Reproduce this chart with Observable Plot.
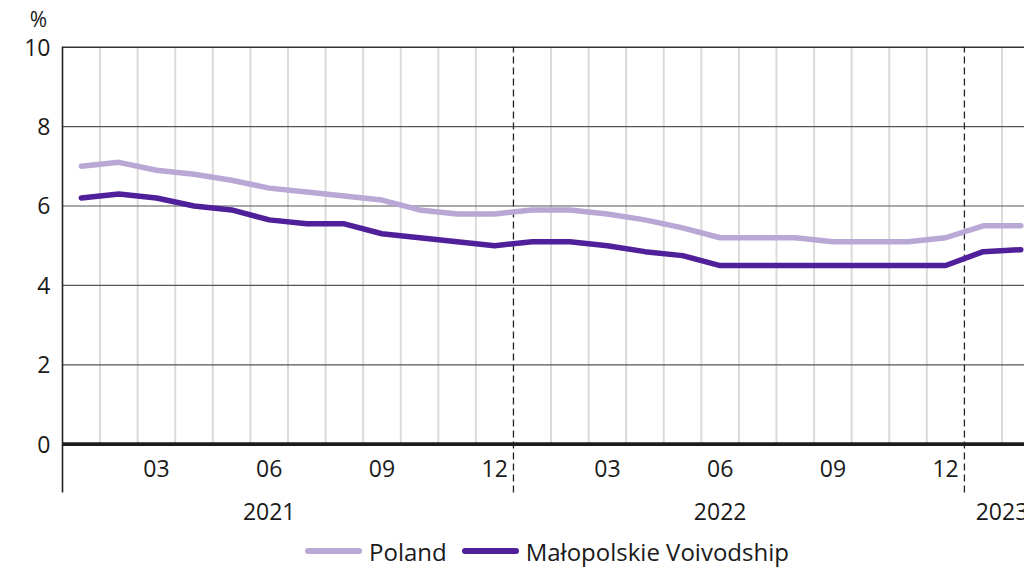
<!DOCTYPE html>
<html>
<head>
<meta charset="utf-8">
<script src="https://cdn.jsdelivr.net/npm/d3@7"></script>
<script src="https://cdn.jsdelivr.net/npm/@observablehq/plot@0.6"></script>
<style>
  html, body { margin: 0; padding: 0; background: #fff; }
  body { width: 1024px; height: 567px; overflow: hidden; position: relative; font-family: "Open Sans", sans-serif; }
  #chart { position: absolute; left: 0; top: 0; }
  #legend { position: absolute; left: 305px; top: 535px; height: 32px; display: flex; align-items: center; font-size: 24px; color: #1a1a1a; white-space: nowrap; }
  .item { display: flex; align-items: center; margin-right: 15px; }
  .sw { display: inline-block; width: 57px; height: 6px; border-radius: 3px; margin-right: 7px; }
</style>
</head>
<body>
<div id="chart"></div>
<div id="legend"></div>
<script>
// ---- data ----
const months = [
  "2021-01","2021-02","2021-03","2021-04","2021-05","2021-06","2021-07","2021-08","2021-09","2021-10","2021-11","2021-12",
  "2022-01","2022-02","2022-03","2022-04","2022-05","2022-06","2022-07","2022-08","2022-09","2022-10","2022-11","2022-12",
  "2023-01","2023-02"
];
const poland = [
  7.0, 7.1, 6.9, 6.8, 6.65, 6.45, 6.35, 6.25, 6.15, 5.9, 5.8, 5.8,
  5.9, 5.9, 5.8, 5.65, 5.45, 5.2, 5.2, 5.2, 5.1, 5.1, 5.1, 5.2,
  5.5, 5.5
];
const malopolskie = [
  6.2, 6.3, 6.2, 6.0, 5.9, 5.65, 5.55, 5.55, 5.3, 5.2, 5.1, 5.0,
  5.1, 5.1, 5.0, 4.85, 4.75, 4.5, 4.5, 4.5, 4.5, 4.5, 4.5, 4.5,
  4.85, 4.9
];
const seriesNames = ["Poland", "Małopolskie Voivodship"];
const seriesColors = ["#b9a7d6", "#50209a"];
const monthTickLabels = ["03", "06", "09", "12"];
const years = ["2021", "2022", "2023"];
const yTicks = [0, 2, 4, 6, 8, 10];
const yGrid = [2, 4, 6, 8];
const unitLabel = "%";

// ---- derived tables ----
const rows = [];
months.forEach((m, i) => {
  rows.push({i, month: m, series: seriesNames[0], value: poland[i]});
  rows.push({i, month: m, series: seriesNames[1], value: malopolskie[i]});
});
const yearStarts = months.map((m, i) => ({m, i})).filter(d => d.i > 0 && d.m.endsWith("-01")).map(d => d.i);
const monthBounds = d3.range(1, months.length + 1).filter(b => !yearStarts.includes(b));
const monthTicks = months.map((m, i) => ({i, label: m.slice(5)})).filter(d => monthTickLabels.includes(d.label));
const yearPos = years.map(y => {
  const idx = months.map((m, i) => ({m, i})).filter(d => d.m.startsWith(y)).map(d => d.i);
  const june = months.indexOf(y + "-06");
  return {year: y, x: june >= 0 ? june + 0.5 : (idx[0] + idx[idx.length - 1] + 1) / 2};
});
const yBottom = -1.23;

const chart = Plot.plot({
  width: 1024,
  height: 532,
  marginLeft: 62,
  marginRight: 0,
  marginTop: 0,
  marginBottom: 0,
  x: {type: "linear", domain: [0, months.length], range: [62, 62 + months.length * 37.58], axis: null},
  y: {domain: [yBottom, 10], range: [492.5, 46.7], axis: null},
  color: {domain: seriesNames, range: seriesColors},
  style: {fontFamily: "'Open Sans', sans-serif", fontSize: "23px", color: "#1a1a1a", background: "#fff"},
  marks: [
    Plot.ruleX(monthBounds, {x: d => d, y1: 0, y2: 10, stroke: "#dadada", strokeWidth: 2}),
    Plot.ruleY(yGrid, {y: d => d, stroke: "#555", strokeWidth: 1.2}),
    Plot.ruleY([10], {y: d => d, stroke: "#333", strokeWidth: 1.6}),
    Plot.ruleX(yearStarts, {x: d => d, y1: yBottom, y2: 10, stroke: "#222", strokeWidth: 1.3, strokeDasharray: "7,4"}),
    Plot.ruleX([0], {x: d => d, y1: yBottom, y2: 10, stroke: "#222", strokeWidth: 1.6}),
    Plot.line(rows, {x: d => d.i + 0.5, y: "value", z: "series", stroke: "series", strokeWidth: 5.5, strokeLinejoin: "round", strokeLinecap: "round"}),
    Plot.ruleY([0], {y: d => d, stroke: "#1c1c1c", strokeWidth: 3.8}),
    Plot.text(yTicks, {x: 0, y: d => d, text: d => String(d), dx: -12, dy: 1, textAnchor: "end", fill: "#1a1a1a"}),
    Plot.text([unitLabel], {x: 0, y: 10, text: d => d, dx: -24, dy: -27, fontSize: 21, fill: "#1a1a1a"}),
    Plot.text(monthTicks, {x: d => d.i + 0.5, y: 0, text: "label", dy: 25, fill: "#1a1a1a"}),
    Plot.text(yearPos, {x: "x", y: 0, text: "year", dy: 68, fill: "#1a1a1a"})
  ]
});
document.getElementById("chart").append(chart);

const legend = document.getElementById("legend");
seriesNames.forEach((name, k) => {
  const item = document.createElement("span");
  item.className = "item";
  const sw = document.createElement("span");
  sw.className = "sw";
  sw.style.background = seriesColors[k];
  item.append(sw, document.createTextNode(name));
  legend.append(item);
});
</script>
</body>
</html>
